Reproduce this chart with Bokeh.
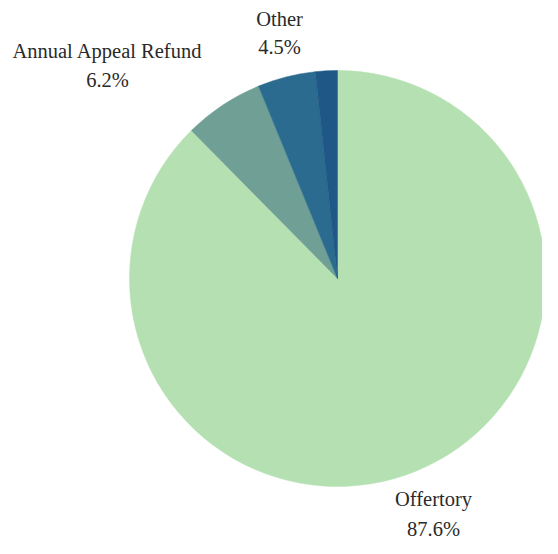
import math
from bokeh.plotting import figure
from bokeh.models import ColumnDataSource
from bokeh.core.properties import value
from bokeh.embed import file_html
from bokeh.resources import INLINE

categories = ["Offertory", "Annual Appeal Refund", "Other", "Misc"]
shares = [87.6, 6.2, 4.5, 1.7]
colors = ["#b5e0b2", "#6f9f95", "#2b6b8f", "#1f5886"]
label_names = ["Offertory", "Annual Appeal Refund", "Other"]
label_pcts = ["87.6%", "6.2%", "4.5%"]

W, H = 542, 538
cx, cy, r = 337, H - 278, 208

total = sum(shares)
starts, ends = [], []
acc = 0.0
for s in shares:
    starts.append(math.pi / 2 - 2 * math.pi * acc / total)
    acc += s
    ends.append(math.pi / 2 - 2 * math.pi * acc / total)

src = ColumnDataSource(dict(cat=categories, start=starts, end=ends, color=colors,
                            x=[cx] * 4, y=[cy] * 4))

p = figure(width=W, height=H, x_range=(0, W), y_range=(0, H),
           output_backend="svg", toolbar_location=None, min_border=0)
p.axis.visible = False
p.grid.visible = False
p.outline_line_color = None
p.background_fill_color = "white"

p.wedge(x="x", y="y", radius=r, start_angle="start", end_angle="end",
        direction="clock", fill_color="color", line_color="color", line_width=0.5,
        source=src)

# label layout (positions of label centres, from the top)
lx = [433, 107, 279]
ly_name = [498, 50, 18]
ly_pct = [528, 79, 46]
lsrc = ColumnDataSource(dict(x=lx, yn=[H - v for v in ly_name],
                             yp=[H - v for v in ly_pct],
                             name=label_names, pct=label_pcts))
for col, ycol in (("name", "yn"), ("pct", "yp")):
    p.text(x="x", y=ycol, text=col, source=lsrc,
           text_font=value("serif"),
           text_font_size="20.5px",
           text_color="#2a2a2a", text_align="center", text_baseline="middle")

open("out.html", "w").write(file_html(p, INLINE))
